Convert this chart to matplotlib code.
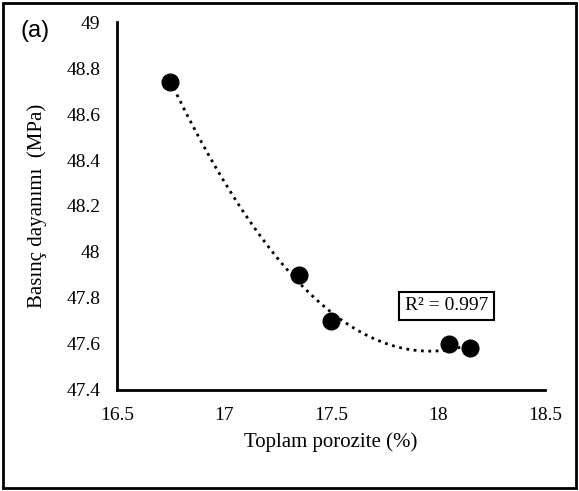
import matplotlib.pyplot as plt
import numpy as np
from matplotlib.patches import Rectangle

porosity = [16.75, 17.35, 17.5, 18.05, 18.15]
strength = [48.74, 47.9, 47.7, 47.6, 47.58]
x_ticks = [16.5, 17, 17.5, 18, 18.5]
x_labels = ['16.5', '17', '17.5', '18', '18.5']
y_ticks = [47.4, 47.6, 47.8, 48, 48.2, 48.4, 48.6, 48.8, 49]
y_labels = ['47.4', '47.6', '47.8', '48', '48.2', '48.4', '48.6', '48.8', '49']

plt.rcParams['font.family'] = ['Liberation Serif', 'DejaVu Serif']

fig = plt.figure(figsize=(5.79, 4.91), dpi=100)
ax = fig.add_axes([0.202, 0.206, 0.739, 0.749])

# polynomial (order 2) trendline
coef = np.polyfit(porosity, strength, 2)
xs = np.linspace(min(porosity), max(porosity), 200)
ax.plot(xs, np.polyval(coef, xs), ':', color='black', lw=2)
ax.plot(porosity, strength, 'o', color='black', markersize=12)

ax.set_xlim(16.5, 18.5)
ax.set_ylim(47.4, 49)
ax.set_xticks(x_ticks)
ax.set_xticklabels(x_labels)
ax.set_yticks(y_ticks)
ax.set_yticklabels(y_labels)
ax.tick_params(length=0, labelsize=14, pad=12)
ax.spines['top'].set_visible(False)
ax.spines['right'].set_visible(False)
ax.spines['left'].set_linewidth(2)
ax.spines['bottom'].set_linewidth(2)

ax.set_xlabel('Toplam porozite (%)', fontsize=15, labelpad=6)
ax.set_ylabel('Basınç dayanımı  (MPa)', fontsize=15, labelpad=14)

ax.text(18.04, 47.765, 'R² = 0.997', fontsize=14, ha='center', va='center',
        bbox=dict(boxstyle='square,pad=0.3', fc='white', ec='black', lw=1.5))

fig.text(0.035, 0.925, '(a)', fontsize=17, family='Liberation Sans')

fig.patches.append(Rectangle((0.006, 0.006), 0.988, 0.988, transform=fig.transFigure,
                             fill=False, ec='black', lw=2))

fig.savefig('out.png', dpi=100)
